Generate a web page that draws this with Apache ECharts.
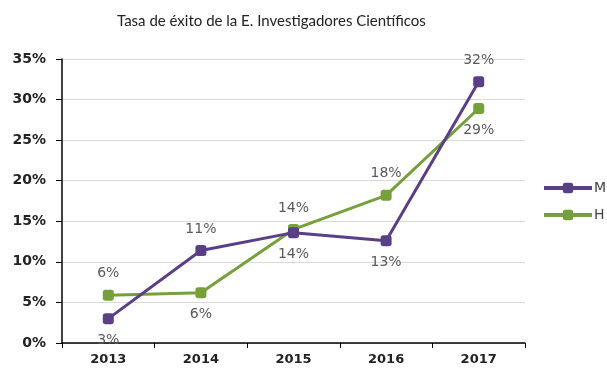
<!DOCTYPE html>
<html>
<head>
<meta charset="utf-8">
<script src="https://cdn.jsdelivr.net/npm/echarts@6/dist/echarts.min.js"></script>
<style>
html,body{margin:0;padding:0;background:#fff;}
#chart{width:607px;height:378px;}
</style>
</head>
<body>
<div id="chart"></div>
<script>
// Success rate by year, women (M) and men (H)
const years = ['2013', '2014', '2015', '2016', '2017'];
const valuesM = [3.0, 11.4, 13.6, 12.6, 32.2];
const valuesH = [5.9, 6.2, 14.0, 18.2, 28.9];
// where each value label sits relative to its point
const labelPosM = ['bottom', 'top', 'bottom', 'bottom', 'top'];
const labelPosH = ['top', 'bottom', 'top', 'top', 'bottom'];
const yTicks = [0, 5, 10, 15, 20, 25, 30, 35];

const colorM = '#5a3f86';
const colorH = '#76a03a';

function pointData(values, positions) {
  return values.map((v, i) => ({
    value: v,
    label: { position: positions[i] }
  }));
}

const labelStyle = {
  show: true,
  color: '#595959',
  fontSize: 14,
  fontFamily: 'DejaVu Sans',
  distance: 9,
  formatter: p => Math.round(p.value) + '%'
};

const chart = echarts.init(document.getElementById('chart'), null, { renderer: 'canvas' });
chart.setOption({
  animation: false,
  title: {
    text: 'Tasa de éxito de la E. Investigadores Científicos',
    left: 112,
    top: 9,
    textStyle: { fontSize: 15, fontWeight: 'normal', color: '#222', fontFamily: 'Lato' }
  },
  legend: {
    orient: 'vertical',
    left: 537,
    top: 176,
    itemWidth: 48,
    itemHeight: 13,
    itemGap: 13,
    lineStyle: { width: 4 },
    textStyle: { color: '#444', fontSize: 14, fontFamily: 'DejaVu Sans', padding: [0, 0, 0, -3] },
    data: ['M', 'H']
  },
  grid: { left: 62, right: 82, top: 59, bottom: 35 },
  xAxis: {
    type: 'category',
    data: years,
    boundaryGap: true,
    axisLine: { lineStyle: { color: '#000', width: 1.5 } },
    axisTick: { show: true, length: 5, lineStyle: { color: '#000' } },
    axisLabel: { color: '#222', fontWeight: 'bold', fontSize: 13, fontFamily: 'DejaVu Sans', margin: 10 }
  },
  yAxis: {
    type: 'value',
    min: yTicks[0],
    max: yTicks[yTicks.length - 1],
    interval: 5,
    axisLine: { show: true, lineStyle: { color: '#000', width: 1.5 } },
    axisTick: { show: true, length: 6, lineStyle: { color: '#000' } },
    splitLine: { lineStyle: { color: '#d9d9d9' } },
    axisLabel: { color: '#222', fontWeight: 'bold', fontSize: 14, fontFamily: 'DejaVu Sans', margin: 16, formatter: '{value}%' }
  },
  series: [
    {
      name: 'M',
      type: 'line',
      data: pointData(valuesM, labelPosM),
      color: colorM,
      lineStyle: { width: 3, color: colorM },
      symbol: 'roundRect',
      symbolSize: 11,
      itemStyle: { color: colorM },
      label: labelStyle,
      z: 3
    },
    {
      name: 'H',
      type: 'line',
      data: pointData(valuesH, labelPosH),
      color: colorH,
      lineStyle: { width: 3, color: colorH },
      symbol: 'roundRect',
      symbolSize: 11,
      itemStyle: { color: colorH },
      label: labelStyle,
      z: 2
    }
  ]
});
</script>
</body>
</html>
